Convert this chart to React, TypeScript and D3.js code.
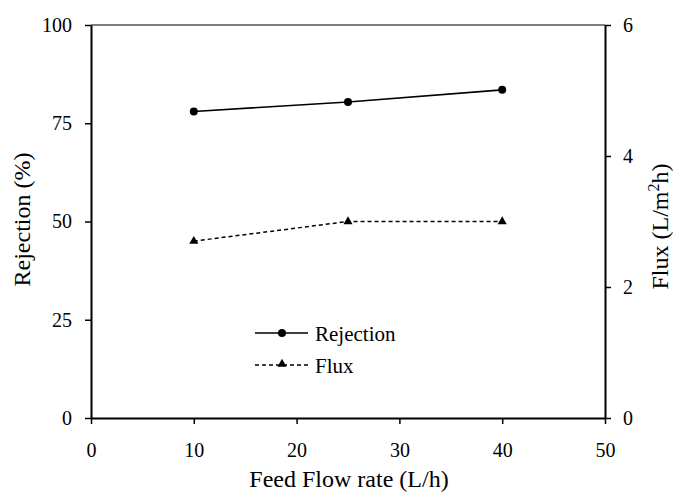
import React, { useEffect, useRef } from 'react';
import * as d3 from 'd3';

const flowRates = [10, 25, 40];
const rejection = [78, 80.4, 83.5];
const flux = [2.7, 3.0, 3.0];
const xTicks = [0, 10, 20, 30, 40, 50];
const leftTicks = [0, 25, 50, 75, 100];
const rightTicks = [0, 2, 4, 6];

function App() {
    const ref = useRef<SVGSVGElement>(null);

    useEffect(() => {
        const svg = d3.select(ref.current);
        svg.selectAll('*').remove();

        const left = 91, right = 605, top = 25, bottom = 418;
        const font = 'Liberation Serif, Times New Roman, DejaVu Serif, serif';

        const x = d3.scaleLinear().domain([0, 50]).range([left, right]);
        const yL = d3.scaleLinear().domain([0, 100]).range([bottom, top]);
        const yR = d3.scaleLinear().domain([0, 6]).range([bottom, top]);

        // top border
        svg.append('line')
            .attr('x1', left).attr('x2', right)
            .attr('y1', top).attr('y2', top)
            .attr('stroke', '#000').attr('stroke-width', 1);

        const styleAxis = (g: any) => {
            g.attr('font-family', null).attr('font-size', null);
            g.selectAll('.domain').attr('stroke', '#000').attr('stroke-width', 2);
            g.selectAll('.tick line').attr('stroke', '#000').attr('stroke-width', 1.5);
            g.selectAll('.tick text')
                .style('font-family', font)
                .style('font-size', '20px')
                .attr('fill', '#000');
        };

        svg.append('g')
            .attr('transform', `translate(0,${bottom})`)
            .call(d3.axisBottom(x).tickValues(xTicks).tickSize(6).tickSizeOuter(0).tickPadding(19))
            .call(styleAxis);

        svg.append('g')
            .attr('transform', `translate(${left},0)`)
            .call(d3.axisLeft(yL).tickValues(leftTicks).tickSize(6).tickSizeOuter(0).tickPadding(13))
            .call(styleAxis);

        svg.append('g')
            .attr('transform', `translate(${right},0)`)
            .call(d3.axisRight(yR).tickValues(rightTicks).tickFormat(d3.format('d')).tickSize(6).tickSizeOuter(0).tickPadding(12))
            .call(styleAxis);

        const txt = (sel: any, size: number) =>
            sel.style('font-family', font).style('font-size', `${size}px`).attr('fill', '#000');

        // axis titles
        svg.append('text')
            .attr('x', (left + right) / 2 + 1).attr('y', 487)
            .attr('text-anchor', 'middle')
            .call(txt, 24)
            .text('Feed Flow rate (L/h)');

        svg.append('text')
            .attr('transform', `translate(30,${(top + bottom) / 2 - 2}) rotate(-90)`)
            .attr('text-anchor', 'middle')
            .call(txt, 24)
            .text('Rejection (%)');

        const rt = svg.append('text')
            .attr('transform', `translate(668,${(top + bottom) / 2 + 5}) rotate(-90)`)
            .attr('text-anchor', 'middle')
            .call(txt, 24);
        rt.append('tspan').text('Flux (L/m');
        rt.append('tspan').style('font-size', '16px').attr('dy', -9).text('2');
        rt.append('tspan').attr('dy', 9).text('h)');

        // Rejection series
        const rejData = flowRates.map((f, i) => [f, rejection[i]] as [number, number]);
        svg.append('path')
            .datum(rejData)
            .attr('fill', 'none').attr('stroke', '#000').attr('stroke-width', 1.6)
            .attr('d', d3.line<[number, number]>().x(d => x(d[0])).y(d => yL(d[1])));
        svg.selectAll('.rej-dot')
            .data(rejData).enter().append('circle')
            .attr('cx', d => x(d[0])).attr('cy', d => yL(d[1]))
            .attr('r', 4).attr('fill', '#000');

        // Flux series
        const fluxData = flowRates.map((f, i) => [f, flux[i]] as [number, number]);
        svg.append('path')
            .datum(fluxData)
            .attr('fill', 'none').attr('stroke', '#000').attr('stroke-width', 1.5)
            .attr('stroke-dasharray', '4,3')
            .attr('d', d3.line<[number, number]>().x(d => x(d[0])).y(d => yR(d[1])));
        const tri = d3.symbol().type(d3.symbolTriangle).size(36);
        svg.selectAll('.flux-tri')
            .data(fluxData).enter().append('path')
            .attr('d', tri)
            .attr('transform', d => `translate(${x(d[0])},${yR(d[1])})`)
            .attr('fill', '#000');

        // legend
        const lg = svg.append('g').attr('transform', 'translate(255,333)');
        lg.append('line').attr('x1', 0).attr('x2', 53).attr('y1', 0).attr('y2', 0)
            .attr('stroke', '#000').attr('stroke-width', 1.6);
        lg.append('circle').attr('cx', 27).attr('cy', 0).attr('r', 4).attr('fill', '#000');
        lg.append('text').attr('x', 60).attr('y', 8)
            .call(txt, 21).text('Rejection');

        lg.append('line').attr('x1', 0).attr('x2', 53).attr('y1', 32).attr('y2', 32)
            .attr('stroke', '#000').attr('stroke-width', 1.5).attr('stroke-dasharray', '4,3');
        lg.append('path').attr('d', tri).attr('transform', 'translate(27,31)').attr('fill', '#000');
        lg.append('text').attr('x', 60).attr('y', 40)
            .call(txt, 21).text('Flux');
    }, []);

    return <svg ref={ref} width={673} height={493} style={{ display: 'block', position: 'absolute', left: 0, top: 0 }} />;
}

export default App;
